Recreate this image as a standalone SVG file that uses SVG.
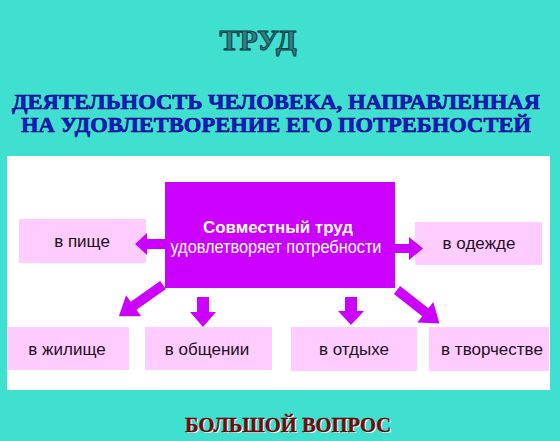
<svg xmlns="http://www.w3.org/2000/svg" width="560" height="441" viewBox="0 0 560 441">
<style>
.box{fill:#FFCCFF}
.lbl{font-family:"Liberation Sans",Arial,sans-serif;font-size:17px;fill:#1e101e;text-anchor:middle}
.arr{fill:#CC00FF}
.hdr{font-family:"Liberation Serif","Times New Roman",serif;font-weight:bold;text-anchor:middle}
</style>
<defs>
<polygon id="diag" points="0,-5 36,-5 36,-13 54,0 36,13 36,5 0,5"/>
</defs>
<rect x="0" y="0" width="560" height="441" fill="#40E0D0"/>
<rect x="7" y="156" width="543" height="234" fill="#FFFFFF"/>
<text class="hdr" x="258" y="50" font-size="30" fill="#2E8088" stroke="#0A3A3E" stroke-width="1">ТРУД</text>
<text class="hdr" x="276" y="109" font-size="22" fill="#1A1AC8" stroke="#000078" stroke-width="0.6" textLength="528" lengthAdjust="spacingAndGlyphs">ДЕЯТЕЛЬНОСТЬ ЧЕЛОВЕКА, НАПРАВЛЕННАЯ</text>
<text class="hdr" x="276" y="132" font-size="22" fill="#1A1AC8" stroke="#000078" stroke-width="0.6" textLength="510" lengthAdjust="spacingAndGlyphs">НА УДОВЛЕТВОРЕНИЕ ЕГО ПОТРЕБНОСТЕЙ</text>
<text class="hdr" x="289" y="433" font-size="20" fill="#FFFFFF" textLength="206" lengthAdjust="spacingAndGlyphs">БОЛЬШОЙ ВОПРОС</text>
<text class="hdr" x="288" y="432" font-size="20" fill="#7A0A0A" stroke="#5A0000" stroke-width="0.3" textLength="206" lengthAdjust="spacingAndGlyphs">БОЛЬШОЙ ВОПРОС</text>
<g id="center">
<rect x="165" y="182" width="230" height="106" fill="#CC00FF"/>
<text x="278" y="233" font-family="Liberation Sans,Arial,sans-serif" font-size="17" font-weight="bold" fill="#FFFFFF" text-anchor="middle" textLength="150" lengthAdjust="spacingAndGlyphs">Совместный труд</text>
<text x="276" y="253" font-family="Liberation Sans,Arial,sans-serif" font-size="17.5" fill="#FFFFFF" text-anchor="middle" textLength="211" lengthAdjust="spacingAndGlyphs">удовлетворяет потребности</text>
</g>
<g id="food"><rect class="box" x="19" y="219" width="127" height="44"/><text class="lbl" x="82" y="247">в пище</text></g>
<g id="clothes"><rect class="box" x="415" y="222" width="127" height="43"/><text class="lbl" x="479" y="249">в одежде</text></g>
<g id="housing"><rect class="box" x="7" y="327" width="122" height="43"/><text class="lbl" x="67" y="355">в жилище</text></g>
<g id="communication"><rect class="box" x="145" y="327" width="127" height="43"/><text class="lbl" x="207" y="355">в общении</text></g>
<g id="rest"><rect class="box" x="291" y="327" width="126" height="44"/><text class="lbl" x="354" y="355">в отдыхе</text></g>
<g id="creativity"><rect class="box" x="429" y="327" width="120" height="44"/><text class="lbl" x="492" y="355">в творчестве</text></g>
<g id="connectors">
<polygon class="arr" points="165,239 147,239 147,233 135,244 147,255 147,249 165,249"/>
<polygon class="arr" points="395,244 409,244 409,237 423,248.5 409,260 409,253 395,253"/>
<polygon class="arr" points="197,297 209,297 209,312 216,312 203,327 190,312 197,312"/>
<polygon class="arr" points="345,297 357,297 357,311 364,311 351,325 338,311 345,311"/>
<use href="#diag" class="arr" transform="translate(163,285) rotate(144.8)"/>
<use href="#diag" class="arr" transform="translate(397,290) rotate(38.2)"/>
</g>
</svg>
